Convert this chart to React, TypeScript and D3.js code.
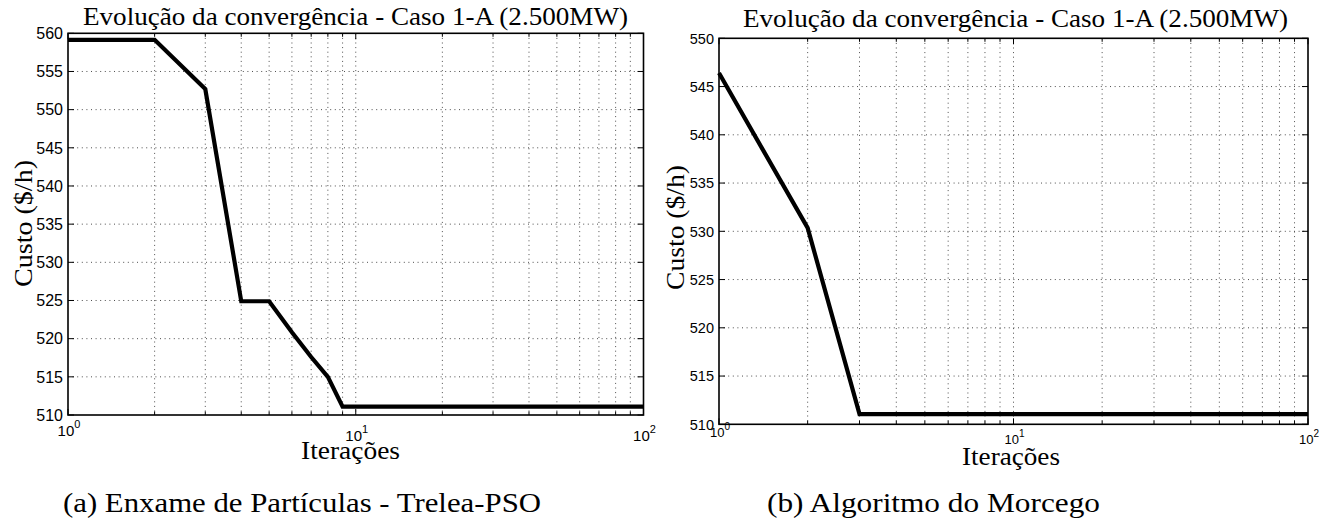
import React from "react";
import * as d3 from "d3";

// ---- data ----
const psoIterations = [1, 2, 3, 4, 5, 6, 7, 8, 9, 100];
const psoCost = [559.15, 559.15, 552.7, 524.9, 524.9, 520.85, 517.6, 515.0, 511.1, 511.1];

const batIterations = [1, 2, 3, 100];
const batCost = [546.4, 530.35, 511.05, 511.05];

const psoYTicks = [510, 515, 520, 525, 530, 535, 540, 545, 550, 555, 560];
const batYTicks = [510, 515, 520, 525, 530, 535, 540, 545, 550];
const xMajorTicks = [1, 10, 100];
const xExponents = ["0", "1", "2"];
const xMinorTicks = [2, 3, 4, 5, 6, 7, 8, 9, 20, 30, 40, 50, 60, 70, 80, 90];

const titleText = "Evolução da convergência - Caso 1-A (2.500MW)";
const xLabelText = "Iterações";
const yLabelText = "Custo ($/h)";
const captionA = "(a) Enxame de Partículas - Trelea-PSO";
const captionB = "(b) Algoritmo do Morcego";

const SERIF = "Liberation Serif, Times New Roman, Times, serif";
const SANS = "Liberation Sans, Arial, Helvetica, sans-serif";

type PanelProps = {
  x0: number; x1: number; y0: number; y1: number;
  yDomain: [number, number]; yTicks: number[];
  iters: number[]; costs: number[];
  yTickFont: number; xTickFont: number; supFont: number;
  xTickBaselines: number[];
  title: { x0: number; x1: number; y: number };
  xLabel: { x0: number; x1: number; y: number };
  yLabel: { x: number; yc: number; len: number };
  caption: { text: string; x0: number; x1: number; y: number };
};

function Panel(p: PanelProps) {
  const xs = d3.scaleLog().domain([1, 100]).range([p.x0, p.x1]);
  const ys = d3.scaleLinear().domain(p.yDomain).range([p.y1, p.y0]);
  const line = d3
    .line<number>()
    .x((_, i) => xs(p.iters[i]))
    .y((d) => ys(d));
  const gridStyle = { stroke: "#3a3a3a", strokeWidth: 0.9, strokeDasharray: "1,3.6" };
  const majLen = 6;
  const minLen = 3.5;
  return (
    <g>
      {p.yTicks.slice(1, -1).map((t) => (
        <line key={"gy" + t} x1={p.x0} x2={p.x1} y1={ys(t)} y2={ys(t)} {...gridStyle} />
      ))}
      {[...xMinorTicks, 10].map((t) => (
        <line key={"gx" + t} x1={xs(t)} x2={xs(t)} y1={p.y0} y2={p.y1} {...gridStyle} />
      ))}
      {p.yTicks.map((t) => (
        <g key={"ty" + t}>
          <line x1={p.x0} x2={p.x0 + majLen} y1={ys(t)} y2={ys(t)} stroke="#000" strokeWidth={1} />
          <line x1={p.x1} x2={p.x1 - majLen} y1={ys(t)} y2={ys(t)} stroke="#000" strokeWidth={1} />
        </g>
      ))}
      {xMinorTicks.map((t) => (
        <g key={"tmx" + t}>
          <line x1={xs(t)} x2={xs(t)} y1={p.y1} y2={p.y1 - minLen} stroke="#000" strokeWidth={1} />
          <line x1={xs(t)} x2={xs(t)} y1={p.y0} y2={p.y0 + minLen} stroke="#000" strokeWidth={1} />
        </g>
      ))}
      {xMajorTicks.map((t) => (
        <g key={"tMx" + t}>
          <line x1={xs(t)} x2={xs(t)} y1={p.y1} y2={p.y1 - majLen} stroke="#000" strokeWidth={1} />
          <line x1={xs(t)} x2={xs(t)} y1={p.y0} y2={p.y0 + majLen} stroke="#000" strokeWidth={1} />
        </g>
      ))}
      <path d={line(p.costs) || ""} fill="none" stroke="#000" strokeWidth={4.2} strokeLinejoin="miter" />
      <rect x={p.x0} y={p.y0} width={p.x1 - p.x0} height={p.y1 - p.y0} fill="none" stroke="#000" strokeWidth={1.6} />
      {p.yTicks.map((t) => (
        <text
          key={"ly" + t}
          x={p.x0 - 5}
          y={ys(t)}
          dy="0.36em"
          textAnchor="end"
          fontFamily={SANS}
          fontSize={p.yTickFont}
          fill="#000"
        >
          {t}
        </text>
      ))}
      {xMajorTicks.map((t, i) => (
        <text
          key={"lx" + t}
          x={xs(t) + 1}
          y={p.xTickBaselines[i]}
          textAnchor="middle"
          fontFamily={SANS}
          fontSize={p.xTickFont}
          fill="#000"
        >
          10
          <tspan fontSize={p.supFont} dy={-p.xTickFont * 0.55}>
            {xExponents[i]}
          </tspan>
        </text>
      ))}
      <text
        x={p.title.x0}
        y={p.title.y}
        fontFamily={SERIF}
        fontSize={25}
        textLength={p.title.x1 - p.title.x0}
        lengthAdjust="spacingAndGlyphs"
        fill="#000"
      >
        {titleText}
      </text>
      <text
        x={p.xLabel.x0}
        y={p.xLabel.y}
        fontFamily={SERIF}
        fontSize={25}
        textLength={p.xLabel.x1 - p.xLabel.x0}
        lengthAdjust="spacingAndGlyphs"
        fill="#000"
      >
        {xLabelText}
      </text>
      <text
        transform={`translate(${p.yLabel.x},${p.yLabel.yc}) rotate(-90)`}
        x={-p.yLabel.len / 2}
        y={0}
        fontFamily={SERIF}
        fontSize={26}
        textLength={p.yLabel.len}
        lengthAdjust="spacingAndGlyphs"
        fill="#000"
      >
        {yLabelText}
      </text>
      <text
        x={p.caption.x0}
        y={p.caption.y}
        fontFamily={SERIF}
        fontSize={27}
        textLength={p.caption.x1 - p.caption.x0}
        lengthAdjust="spacingAndGlyphs"
        fill="#000"
      >
        {p.caption.text}
      </text>
    </g>
  );
}

export default function App() {
  return (
    <svg
      width={1335}
      height={521}
      viewBox="0 0 1335 521"
      style={{ position: "absolute", left: 0, top: 0, background: "#fff", display: "block" }}
    >
      <rect x={0} y={0} width={1335} height={521} fill="#fff" />
      <Panel
        x0={68}
        x1={643.5}
        y0={33.3}
        y1={415}
        yDomain={[510, 560]}
        yTicks={psoYTicks}
        iters={psoIterations}
        costs={psoCost}
        yTickFont={16}
        xTickFont={15}
        supFont={11}
        xTickBaselines={[436, 441, 441]}
        title={{ x0: 83, x1: 628, y: 25 }}
        xLabel={{ x0: 301, x1: 400, y: 458.5 }}
        yLabel={{ x: 32, yc: 223.5, len: 127 }}
        caption={{ text: captionA, x0: 63, x1: 541, y: 511.7 }}
      />
      <Panel
        x0={719}
        x1={1308}
        y0={38.3}
        y1={424.3}
        yDomain={[510, 550]}
        yTicks={batYTicks}
        iters={batIterations}
        costs={batCost}
        yTickFont={14.5}
        xTickFont={13}
        supFont={10}
        xTickBaselines={[437.3, 444, 444]}
        title={{ x0: 743, x1: 1288, y: 26.7 }}
        xLabel={{ x0: 962, x1: 1060, y: 465 }}
        yLabel={{ x: 684, yc: 227.5, len: 125 }}
        caption={{ text: captionB, x0: 767, x1: 1100, y: 511.7 }}
      />
    </svg>
  );
}
